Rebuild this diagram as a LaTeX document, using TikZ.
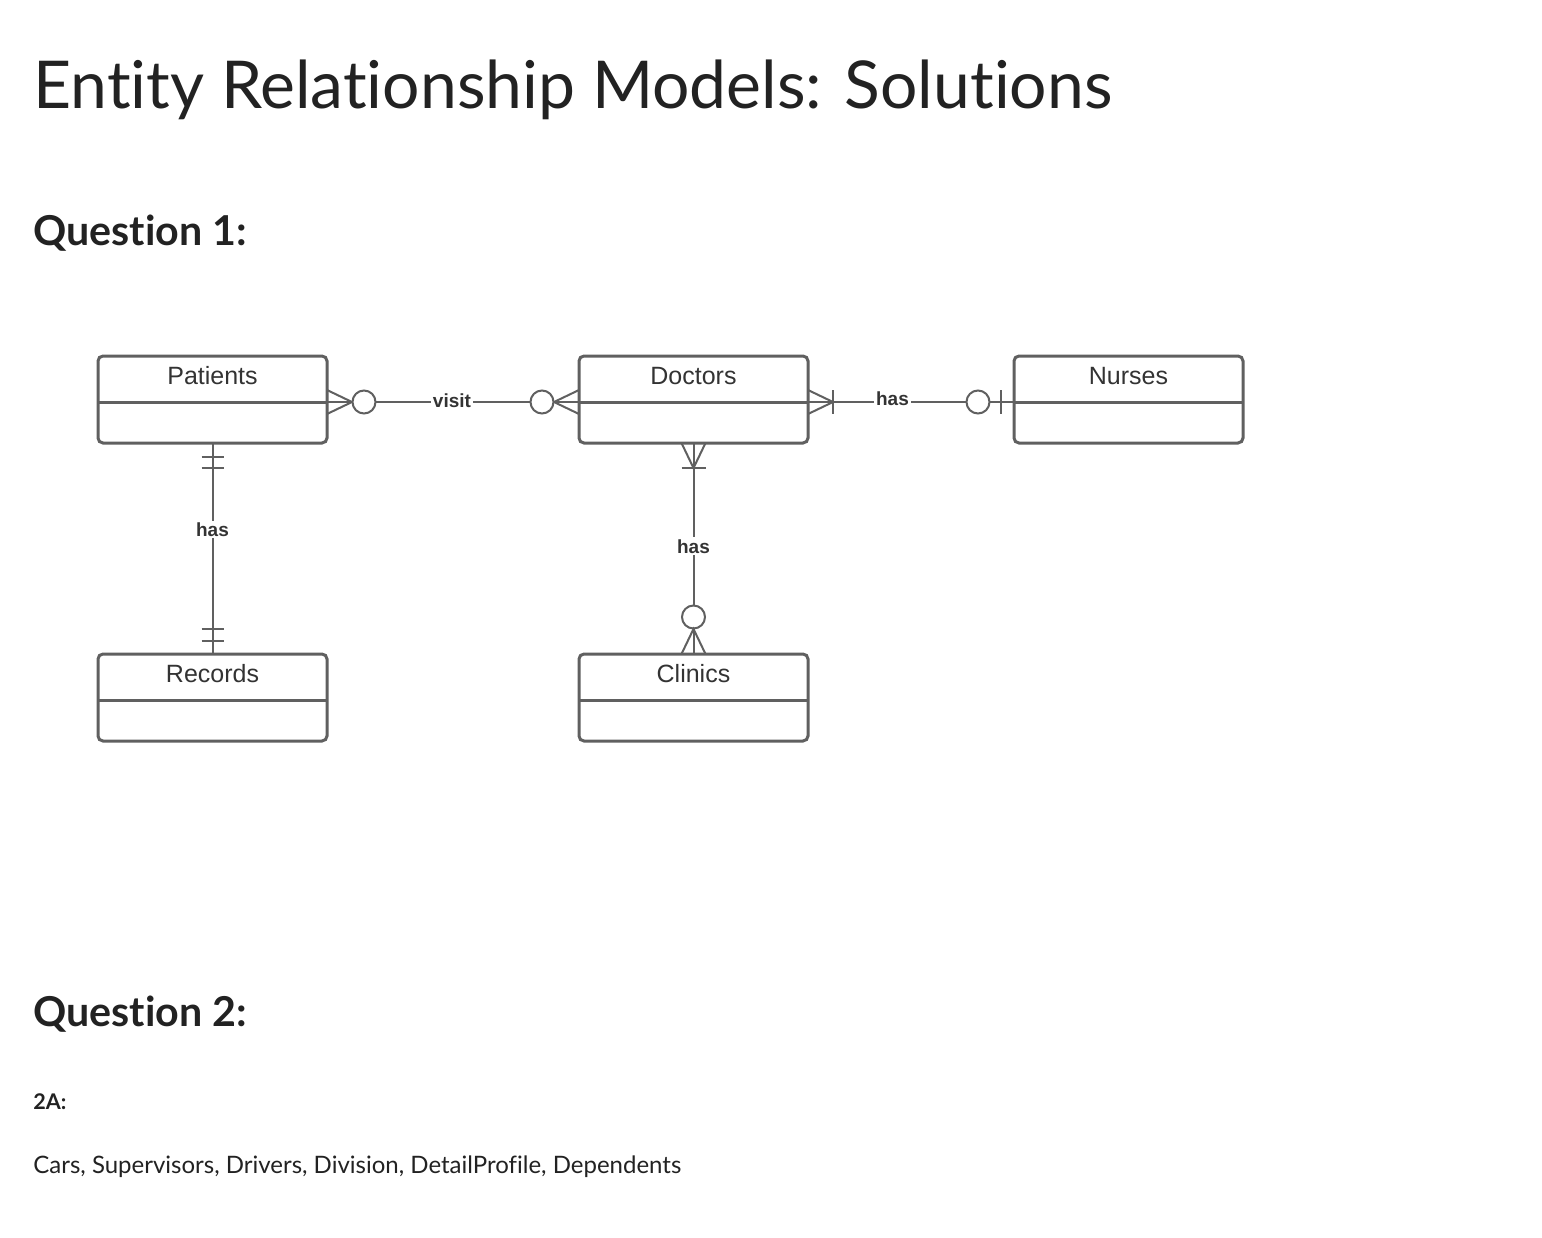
\documentclass[tikz,border=0pt]{standalone}
\usepackage{fontspec}
\setmainfont[Ligatures=NoCommon]{Lato}
\newfontfamily\arialf{Liberation Sans}
\usetikzlibrary{calc}
\definecolor{ln}{HTML}{606060}
\definecolor{tx}{HTML}{333333}
\definecolor{hd}{HTML}{222222}
\begin{document}
\begin{tikzpicture}[x=0.5pt,y=-0.5pt,
  entity/.style={draw=ln, line width=1.5pt, rounded corners=2.5pt, minimum width=114.5pt, minimum height=43.5pt, inner sep=0pt, outer sep=0pt},
  rel/.style={draw=ln, line width=1pt},
  rlabel/.style={font=\arialf\bfseries\fontsize{9.5}{11}\selectfont, text=tx, fill=white, inner sep=1pt},
  ent/.style={font=\arialf\fontsize{12.5}{14}\selectfont, text=tx, inner sep=0pt},
  circ/.style={draw=ln, line width=1pt, fill=white, circle, minimum size=11.5pt, inner sep=0pt},
  txt/.style={anchor=base west, inner sep=0pt, text=hd}]
\useasboundingbox (0,0) rectangle (1542,1237);

% headings
\node[txt, font=\fontsize{33}{36}\selectfont] (title) at (33,108) {Entity Relationship Models: Solutions};
\node[txt, font=\bfseries\fontsize{20.6}{24}\selectfont] (q1) at (33,245) {Question 1:};
\node[txt, font=\bfseries\fontsize{20.6}{24}\selectfont] (q2) at (33,1026) {Question 2:};
\node[txt, font=\bfseries\fontsize{10.8}{12}\selectfont] (a2) at (33,1109) {2A:};
\node[txt, font=\fontsize{12}{14}\selectfont] (ans) at (33,1173) {Cars, Supervisors, Drivers, Division, DetailProfile, Dependents};

% entities
\foreach \n/\x/\y/\t in {pat/212.5/399.5/Patients, doc/693.5/399.5/Doctors, nur/1128.5/399.5/Nurses, rec/212.5/697.5/Records, cli/693.5/697.5/Clinics}{
  \node[entity] (\n) at (\x,\y) {};
  \draw[ln, line width=1.5pt] ([yshift=-1.25pt]\n.west) -- ([yshift=-1.25pt]\n.east);
  \node[ent] (\n-name) at ([yshift=-10pt]\n.north) {\t};
}

\coordinate (pe) at ([yshift=-1.25pt]pat.east);
\coordinate (dw) at ([yshift=-1.25pt]doc.west);
\coordinate (de) at ([yshift=-1.25pt]doc.east);
\coordinate (nw) at ([yshift=-1.25pt]nur.west);
\coordinate (ps) at (pat.south);
\coordinate (rn) at (rec.north);
\coordinate (ds) at (doc.south);
\coordinate (cn) at (cli.north);

% Patients -- Doctors
\draw[rel] (pe) -- node[rlabel, pos=0.496, yshift=0.8pt] (l1) {visit} (dw);
\draw[rel] ([shift={(0,-12)}]pe) -- ([shift={(25,0)}]pe) -- ([shift={(0,12)}]pe);
\node[circ] (c1) at ([shift={(37,0)}]pe) {};
\draw[rel] ([shift={(0,-12)}]dw) -- ([shift={(-25,0)}]dw) -- ([shift={(0,12)}]dw);
\node[circ] (c2) at ([shift={(-37,0)}]dw) {};

% Doctors -- Nurses
\draw[rel] (de) -- node[rlabel, pos=0.41, yshift=1.5pt] (l2) {has} (nw);
\draw[rel] ([shift={(0,-12)}]de) -- ([shift={(25,0)}]de) -- ([shift={(0,12)}]de);
\draw[rel] ([shift={(25,-12)}]de) -- ([shift={(25,12)}]de);
\node[circ] (c3) at ([shift={(-36,0)}]nw) {};
\draw[rel] ([shift={(-13,-12)}]nw) -- ([shift={(-13,12)}]nw);

% Patients -- Records
\draw[rel] (ps) -- node[rlabel, pos=0.41] (l3) {has} (rn);
\draw[rel] ([shift={(-11,14)}]ps) -- ([shift={(11,14)}]ps);
\draw[rel] ([shift={(-11,25)}]ps) -- ([shift={(11,25)}]ps);
\draw[rel] ([shift={(-11,-25)}]rn) -- ([shift={(11,-25)}]rn);
\draw[rel] ([shift={(-11,-13)}]rn) -- ([shift={(11,-13)}]rn);

% Doctors -- Clinics
\draw[rel] (ds) -- node[rlabel, pos=0.49] (l4) {has} (cn);
\draw[rel] ([shift={(-12,0)}]ds) -- ([shift={(0,25)}]ds) -- ([shift={(12,0)}]ds);
\draw[rel] ([shift={(-12,25)}]ds) -- ([shift={(12,25)}]ds);
\node[circ] (c4) at ([shift={(0,-37)}]cn) {};
\draw[rel] ([shift={(-12,0)}]cn) -- ([shift={(0,-25)}]cn) -- ([shift={(12,0)}]cn);
\end{tikzpicture}
\end{document}
